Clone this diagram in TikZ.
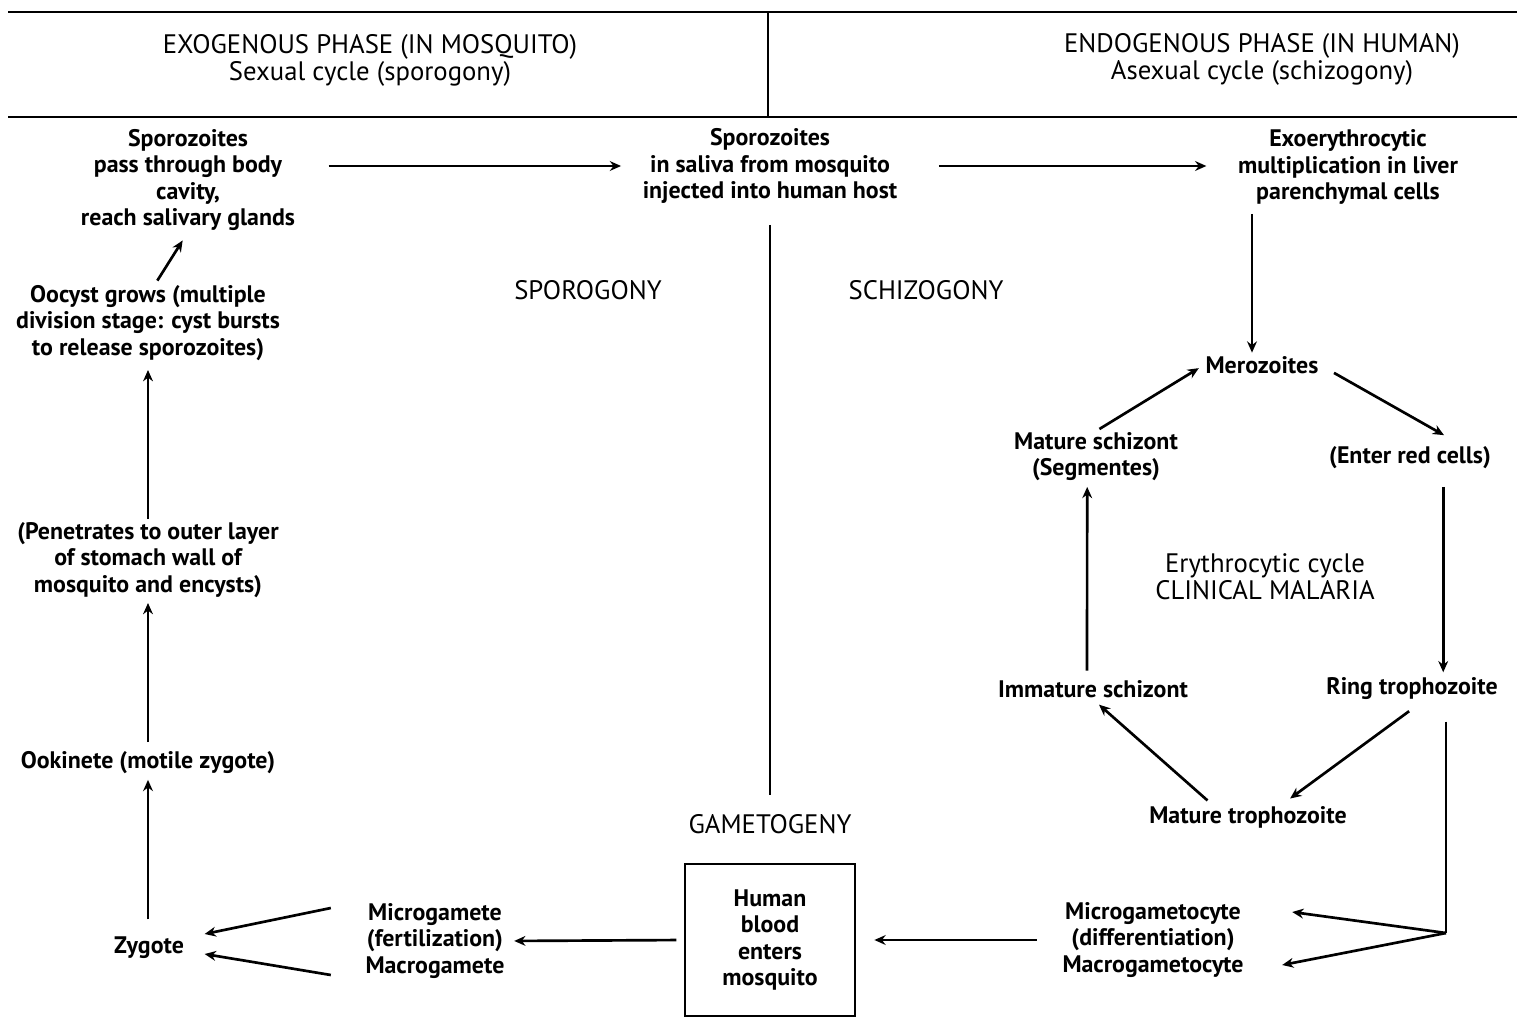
\documentclass[tikz,border=0pt]{standalone}
\usepackage{fontspec}
\setmainfont{PT Sans}
\usetikzlibrary{arrows.meta,positioning}

\tikzset{
  lbl/.style={align=center, font=\bfseries\fontsize{17}{18.6}\selectfont, inner sep=1pt},
  hd/.style={align=center, font=\fontsize{19}{19.3}\selectfont, inner sep=1pt},
  flow/.style={line width=1.9pt, -{Stealth[length=8pt,width=7pt]}},
  bar/.style={line width=1.9pt},
}

\begin{document}
\begin{tikzpicture}[x=0.025cm, y=-0.025cm]
\useasboundingbox (0,0) rectangle (1517,1018);

% header band
\draw[bar] (8,12) -- (1517,12);
\draw[bar] (8,117) -- (1517,117);
\draw[bar] (768,12) -- (768,117);
\node[hd] (exohead) at (370,60) {EXOGENOUS PHASE (IN MOSQUITO)\\Sexual cycle (sporogony)};
\node[hd] (endohead) at (1262,59) {ENDOGENOUS PHASE (IN HUMAN)\\Asexual cycle (schizogony)};

% mosquito side
\node[lbl] (spz1) at (188,180) {Sporozoites\\pass through body\\cavity,\\reach salivary glands};
\node[lbl] (oocyst) at (148,323) {Oocyst grows (multiple\\division stage: cyst bursts\\to release sporozoites)};
\node[lbl] (pen) at (148,560) {(Penetrates to outer layer\\of stomach wall of\\mosquito and encysts)};
\node[lbl] (ook) at (148,763) {Ookinete (motile zygote)};
\node[lbl] (zyg) at (149,948) {Zygote};
\node[lbl] (gam) at (435,941) {Microgamete\\(fertilization)\\Macrogamete};

% middle
\node[lbl] (spz2) at (770,166) {Sporozoites\\in saliva from mosquito\\injected into human host};
\node[hd] (spor) at (588,290) {SPOROGONY};
\node[hd] (schz) at (926,290) {SCHIZOGONY};
\node[hd] (gamt) at (770,824) {GAMETOGENY};
\node[lbl, draw, line width=1.9pt, minimum width=4.25cm, minimum height=3.8cm] (blood) at (770,940) {Human\\blood\\enters\\mosquito};

% human side
\node[lbl] (exo) at (1348,167) {Exoerythrocytic\\multiplication in liver\\parenchymal cells};
\node[lbl] (mero) at (1262,365) {Merozoites};
\node[lbl] (mschz) at (1096,457) {Mature schizont\\(Segmentes)};
\node[lbl] (enter) at (1410,458) {(Enter red cells)};
\node[hd] (ery) at (1265,577) {Erythrocytic cycle\\CLINICAL MALARIA};
\node[lbl] (imschz) at (1093,689) {Immature schizont};
\node[lbl] (ring) at (1412,689) {Ring trophozoite};
\node[lbl] (mtroph) at (1248,817) {Mature trophozoite};
\node[lbl] (gcyte) at (1153,940) {Microgametocyte\\(differentiation)\\Macrogametocyte};

\coordinate (merotop) at ([xshift=-0.25cm]mero.north);
\coordinate (rtop) at ([xshift=0.78cm]ring.north);
\coordinate (split) at (1446,933);

% connectors
\draw[flow, shorten <=0.8cm, shorten >=0.5cm] (spz1.east |- spz2) -- (spz2.west);
\draw[flow, shorten <=1cm, shorten >=0.75cm] (spz2.east) -- (exo.west |- spz2);
\draw[bar, shorten <=0.5cm, shorten >=0.45cm] (spz2.south) -- (gamt.north);
\draw[flow, shorten <=0.1cm, shorten >=0.25cm] ([xshift=0.18cm]oocyst.north) -- (spz1.south);
\draw[flow, shorten <=0.05cm, shorten >=0.2cm] (pen.north) -- (oocyst.south);
\draw[flow, shorten <=0.2cm, shorten >=0.1cm] (ook.north) -- (pen.south);
\draw[flow, shorten <=0.4cm, shorten >=0.1cm] (ook.south |- zyg.north) -- (ook.south);
\draw[flow] ([shift={(-33,-33)}]gam.west) -- ([shift={(19,-14)}]zyg.east);
\draw[flow] ([shift={(-33,34)}]gam.west) -- ([shift={(19,6)}]zyg.east);
\draw[flow, shorten <=0.18cm, shorten >=0.2cm] (blood.west) -- (gam.east);
\draw[flow, shorten <=0.6cm, shorten >=0.45cm] (gcyte.west) -- (blood.east);

\draw[flow, shorten <=0.2cm, shorten >=0.05cm] (merotop |- exo.south) -- (merotop);
\draw[flow, shorten <=0.1cm, shorten >=0.15cm] (mschz.north) -- (mero.west);
\draw[flow, shorten <=0.4cm] (mero.east) -- ([xshift=0.85cm, yshift=0.25cm]enter.north);
\draw[flow, shorten <=0.4cm, shorten >=0.1cm] (rtop |- enter.south) -- (rtop);
\draw[flow, shorten <=0.4cm, shorten >=0.25cm] ([xshift=0.25cm]ring.south) -- ([xshift=0.85cm]mtroph.north);
\draw[flow, shorten <=0.15cm, shorten >=0.2cm] ([xshift=-0.9cm]mtroph.north) -- (imschz.south);
\draw[flow, shorten <=0.2cm, shorten >=0.1cm] ([xshift=-0.15cm]imschz.north) -- ([xshift=-0.22cm]mschz.south);
\draw[bar, shorten <=0.5cm] (ring.south -| split) -- (split);
\draw[flow] (split) -- ([shift={(47,-28)}]gcyte.east);
\draw[flow] (split) -- ([shift={(37,25)}]gcyte.east);
\end{tikzpicture}
\end{document}
